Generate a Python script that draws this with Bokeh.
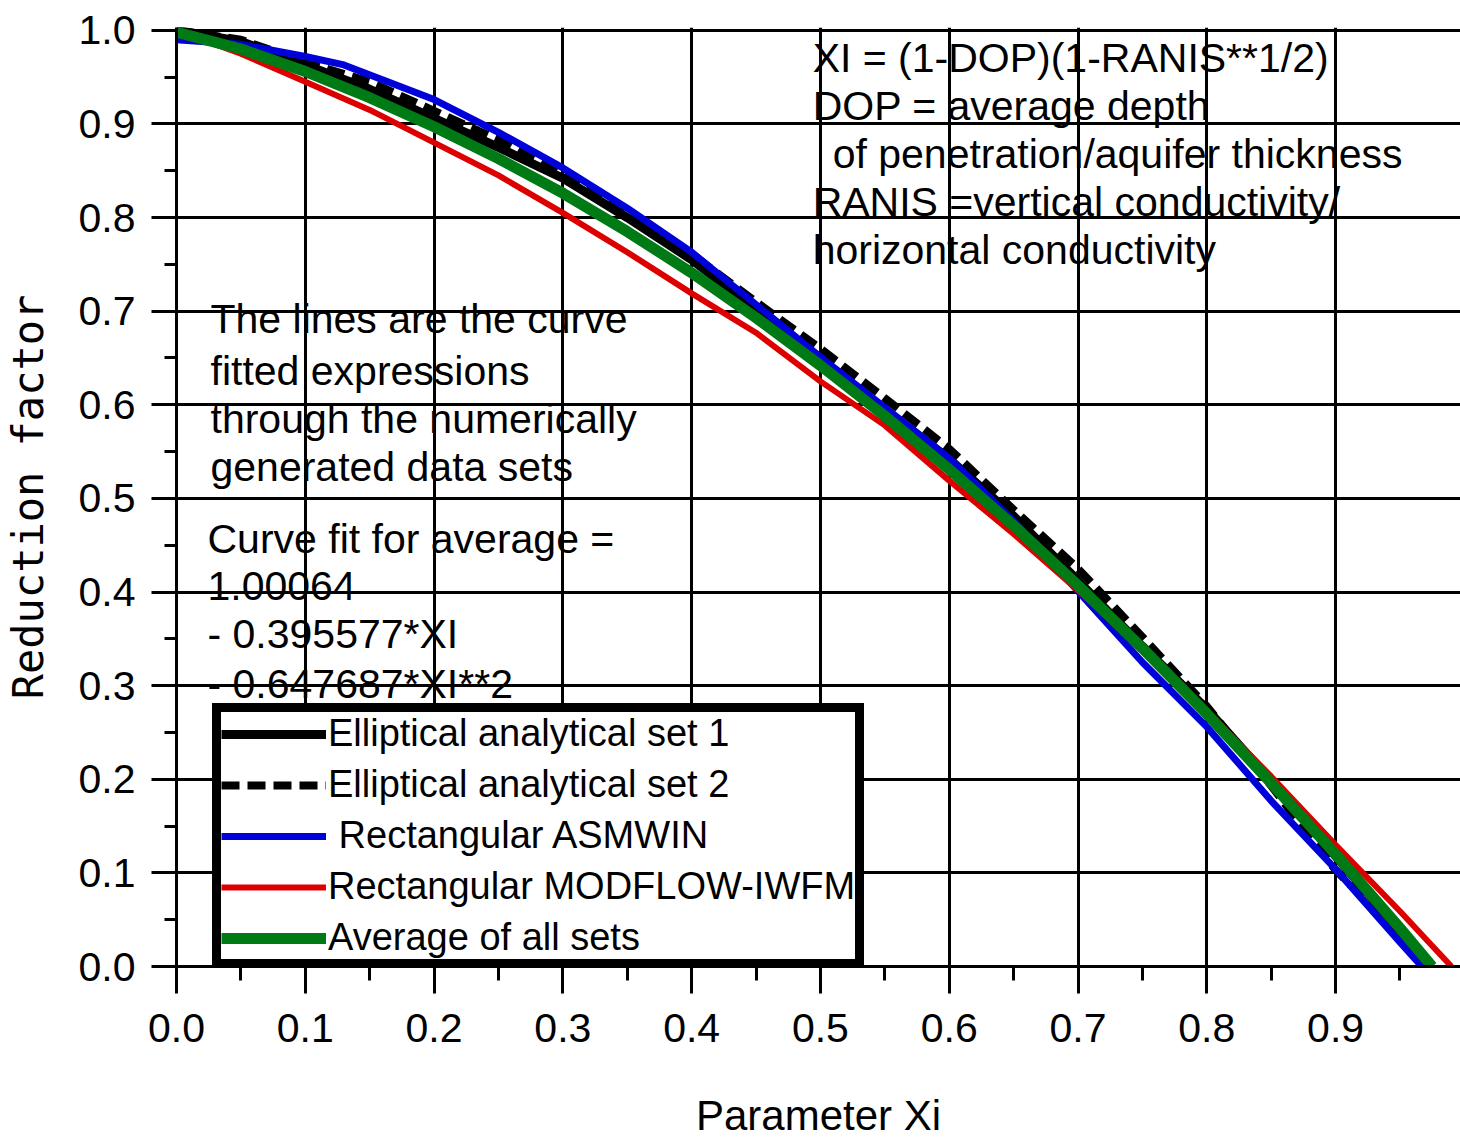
from bokeh.plotting import figure
from bokeh.models import (Range1d, SingleIntervalTicker, PrintfTickFormatter, Label,
                          Legend, LegendItem)
from bokeh.embed import file_html
from bokeh.resources import INLINE

# ---------------- data ----------------
ell1_x = [0.0, 0.05, 0.1, 0.15, 0.2, 0.25, 0.3, 0.35, 0.4, 0.45, 0.5, 0.55, 0.6, 0.65, 0.7, 0.75, 0.8, 0.85, 0.9, 0.95, 0.975]
ell1_y = [1.0, 0.988, 0.963, 0.937, 0.906, 0.875, 0.842, 0.800, 0.755, 0.702, 0.648, 0.595, 0.542, 0.481, 0.412, 0.342, 0.275, 0.198, 0.118, 0.038, 0.0]

ell2_x = [0.0, 0.05, 0.1, 0.15, 0.2, 0.25, 0.3, 0.35, 0.4, 0.45, 0.5, 0.55, 0.6, 0.65, 0.7, 0.75, 0.8, 0.85, 0.9, 0.95, 0.973]
ell2_y = [1.0, 0.990, 0.966, 0.945, 0.914, 0.883, 0.846, 0.805, 0.761, 0.710, 0.660, 0.607, 0.553, 0.488, 0.425, 0.352, 0.278, 0.193, 0.103, 0.034, 0.0]

asm_x = [0.0, 0.05, 0.1, 0.13, 0.2, 0.25, 0.3, 0.35, 0.4, 0.45, 0.5, 0.55, 0.6, 0.65, 0.7, 0.75, 0.8, 0.85, 0.9, 0.95, 0.967]
asm_y = [0.990, 0.985, 0.972, 0.963, 0.926, 0.891, 0.853, 0.810, 0.763, 0.707, 0.651, 0.597, 0.543, 0.476, 0.401, 0.325, 0.256, 0.177, 0.104, 0.026, 0.0]

mod_x = [0.0, 0.05, 0.1, 0.15, 0.2, 0.25, 0.3, 0.35, 0.4, 0.45, 0.5, 0.55, 0.6, 0.65, 0.7, 0.75, 0.8, 0.85, 0.9, 0.95, 0.99]
mod_y = [1.0, 0.975, 0.945, 0.915, 0.880, 0.845, 0.805, 0.763, 0.719, 0.677, 0.625, 0.578, 0.519, 0.462, 0.402, 0.338, 0.273, 0.203, 0.130, 0.059, 0.0]

avg_x = [0.0, 0.05, 0.1, 0.15, 0.2, 0.25, 0.3, 0.35, 0.4, 0.45, 0.5, 0.55, 0.6, 0.65, 0.7, 0.75, 0.8, 0.85, 0.9, 0.95, 0.975]
avg_y = [0.998, 0.980, 0.956, 0.928, 0.897, 0.863, 0.826, 0.785, 0.741, 0.693, 0.642, 0.588, 0.531, 0.471, 0.407, 0.340, 0.270, 0.196, 0.120, 0.041, 0.0]

series_names = ["Elliptical analytical set 1", "Elliptical analytical set 2",
                " Rectangular ASMWIN", "Rectangular MODFLOW-IWFM", "Average of all sets"]

note_right = ["XI = (1-DOP)(1-RANIS**1/2)", "DOP = average depth",
              "of penetration/aquifer thickness", "RANIS =vertical conductivity/",
              "horizontal conductivity"]
note_left1 = ["The lines are the curve", "fitted expressions",
              "through the numerically", "generated data sets"]
note_left2 = ["Curve fit for average =", "1.00064", "- 0.395577*XI", "- 0.647687*XI**2"]

x_title = "Parameter Xi"
y_title = "Reduction factor"

# ---------------- figure ----------------
FONT = "Liberation Sans"
p = figure(width=1460, height=1141, x_range=Range1d(0, 0.997), y_range=Range1d(0, 1.003),
           output_backend="svg", toolbar_location=None,
           min_border_left=176, min_border_right=0, min_border_top=27, min_border_bottom=175)
p.outline_line_color = None
p.background_fill_color = "white"
p.border_fill_color = "white"

xt = SingleIntervalTicker(interval=0.1, num_minor_ticks=2)
yt = SingleIntervalTicker(interval=0.1, num_minor_ticks=2)
p.xaxis.ticker = xt
p.yaxis.ticker = yt
p.xgrid.ticker = xt
p.ygrid.ticker = yt
for g in (p.xgrid, p.ygrid):
    g.grid_line_color = "black"
    g.grid_line_width = 3
    g.grid_line_alpha = 1.0

for ax in (p.xaxis, p.yaxis):
    ax.formatter = PrintfTickFormatter(format="%.1f")
    ax.axis_line_color = "black"
    ax.axis_line_width = 3
    ax.major_tick_line_color = "black"
    ax.major_tick_line_width = 3
    ax.minor_tick_line_color = "black"
    ax.minor_tick_line_width = 3
    ax.major_tick_in = 0
    ax.minor_tick_in = 0
    ax.major_label_text_font = FONT
    ax.major_label_text_font_size = "41px"
    ax.major_label_text_color = "black"
    ax.axis_label_text_font_style = "normal"
    ax.axis_label_text_color = "black"

p.xaxis.major_tick_out = 27
p.xaxis.minor_tick_out = 14
p.xaxis.major_label_standoff = 20
p.xaxis.axis_label = x_title
p.xaxis.axis_label_text_font = FONT
p.xaxis.axis_label_text_font_size = "42px"
p.xaxis.axis_label_standoff = 47

p.yaxis.major_tick_out = 25
p.yaxis.minor_tick_out = 12
p.yaxis.major_label_standoff = 16
p.yaxis.axis_label = y_title
p.yaxis.axis_label_text_font = "DejaVu Sans Mono"
p.yaxis.axis_label_text_font_size = "42px"
p.yaxis.axis_label_standoff = 23

# ---------------- lines ----------------
r1 = p.line(ell1_x, ell1_y, line_color="black", line_width=9)
r2 = p.line(ell2_x, ell2_y, line_color="black", line_width=8, line_dash="18 8")
r3 = p.line(asm_x, asm_y, line_color="#0000d8", line_width=7)
r4 = p.line(mod_x, mod_y, line_color="#dc0000", line_width=6)
r5 = p.line(avg_x, avg_y, line_color="#007a14", line_width=11)

# ---------------- notes ----------------
def py_to_y(py):
    # convert a page pixel row into the data y used to place a note
    return (966 - py) / 936.2

def px_to_x(px):
    return (px - 176) / 1287.6

def add_line(txt, left_px, cy, size="41px", align="left"):
    p.add_layout(Label(x=px_to_x(left_px), y=py_to_y(cy), text=txt,
                       text_font=FONT, text_font_size=size, text_color="black",
                       text_align=align, text_baseline="middle"))

for txt, lx, cy in zip(note_right, [812, 812, 832, 812, 812], [57, 105, 153, 201, 249]):
    add_line(txt, lx, cy)
for txt, cy in zip(note_left1, [318, 370, 418, 466]):
    add_line(txt, 210, cy)
for txt, cy in zip(note_left2, [538, 585, 633, 683]):
    add_line(txt, 207, cy)

# ---------------- legend ----------------
legend = Legend(items=[LegendItem(label=n, renderers=[r]) for n, r in
                       zip(series_names, [r1, r2, r3, r4, r5])],
                location=(36, -2))
legend.border_line_color = "black"
legend.border_line_width = 9
legend.border_line_alpha = 1.0
legend.background_fill_color = "white"
legend.background_fill_alpha = 1.0
legend.padding = 0
legend.margin = 0
legend.spacing = 8
legend.glyph_width = 105
legend.glyph_height = 40
legend.label_height = 40
legend.label_standoff = 2
legend.label_text_font = FONT
legend.label_text_font_size = "38px"
legend.label_text_color = "black"
p.add_layout(legend)

open("out.html", "w").write(file_html(p, INLINE))
